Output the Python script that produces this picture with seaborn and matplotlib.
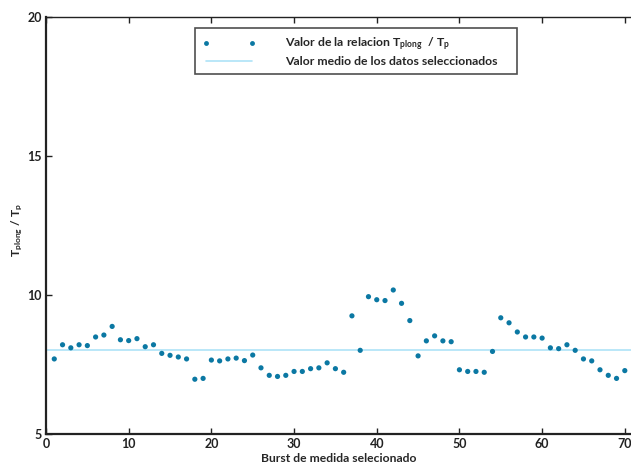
import numpy as np
import pandas as pd
import matplotlib
matplotlib.use("Agg")
import matplotlib.pyplot as plt
import seaborn as sns
from matplotlib.lines import Line2D

# burst index and ratio values
burst = list(range(1, 71))
ratio = [7.70, 8.21, 8.10, 8.21, 8.18, 8.49, 8.56, 8.87, 8.39, 8.36,
         8.43, 8.14, 8.21, 7.90, 7.83, 7.77, 7.70, 6.97, 7.00, 7.66,
         7.63, 7.70, 7.73, 7.64, 7.84, 7.38, 7.11, 7.07, 7.11, 7.25,
         7.25, 7.35, 7.38, 7.56, 7.35, 7.22, 9.25, 8.01, 9.94, 9.83,
         9.80, 10.18, 9.70, 9.08, 7.81, 8.35, 8.53, 8.35, 8.32, 7.31,
         7.25, 7.25, 7.22, 7.97, 9.18, 9.00, 8.67, 8.49, 8.49, 8.45,
         8.10, 8.07, 8.21, 8.01, 7.70, 7.63, 7.31, 7.11, 7.00, 7.28]
mean_value = 8.02

x_ticks = [0, 10, 20, 30, 40, 50, 60, 70]
y_ticks = [5, 10, 15, 20]

point_color = "#0b78a3"
mean_color = "#aee3f7"

sns.set_style("ticks")
plt.rcParams["font.family"] = ["Lato", "DejaVu Sans"]
plt.rcParams["font.weight"] = "bold"
plt.rcParams["mathtext.fontset"] = "custom"
plt.rcParams["mathtext.rm"] = "Lato:bold"
plt.rcParams["mathtext.it"] = "Lato:bold"
plt.rcParams["mathtext.bf"] = "Lato:bold"
plt.rcParams["mathtext.default"] = "rm"

df = pd.DataFrame({"burst": burst, "ratio": ratio})

fig = plt.figure(figsize=(6.31, 4.66), dpi=100)
ax = fig.add_axes([46 / 631, 32 / 466, 1 - 46 / 631, 417 / 466])

ax.axhline(mean_value, color=mean_color, lw=1.2, zorder=1)
sns.scatterplot(data=df, x="burst", y="ratio", ax=ax, color=point_color,
                s=14, edgecolor="none", zorder=2)

ax.set_xlim(0, 70.75)
ax.set_ylim(5, 20)
ax.set_xticks(x_ticks)
ax.set_yticks(y_ticks)
ax.tick_params(direction="in", length=4, width=1, top=True, right=False,
               labelsize=9, colors="#222222", pad=3)
for lab in ax.get_xticklabels() + ax.get_yticklabels():
    lab.set_fontweight("bold")

for side in ["left", "bottom"]:
    ax.spines[side].set_linewidth(1.6)
    ax.spines[side].set_color("#222222")
ax.spines["top"].set_linewidth(1.0)
ax.spines["top"].set_color("#222222")
ax.spines["right"].set_visible(False)

ax.set_xlabel("Burst de medida selecionado", fontsize=8.7, fontweight="bold",
              labelpad=2)
ax.set_ylabel(r"T$_{plong}$ / T$_p$", fontsize=8.7, fontweight="bold")
ax.yaxis.set_label_coords(-0.036, 0.49)

handles = [
    Line2D([], [], ls="none", marker="o", ms=3.5, color=point_color,
           markeredgecolor="none"),
    Line2D([], [], color=mean_color, lw=1.2),
]
labels = [r"Valor de la relacion T$_{plong}$  / T$_p$",
          "Valor medio de los datos seleccionados"]
leg = ax.legend(handles, labels, loc="upper left",
                bbox_to_anchor=(149 / 585, 1 - 11 / 417, 322 / 585, 0),
                mode="expand", borderaxespad=0,
                numpoints=2, handlelength=4.4, handletextpad=2.4,
                fontsize=8.8, frameon=True, fancybox=False,
                labelspacing=0.25, borderpad=0.6)
leg.get_frame().set_edgecolor("#222222")
leg.get_frame().set_linewidth(1.2)
for t in leg.get_texts():
    t.set_fontweight("bold")

fig.savefig("out.png", dpi=100)
